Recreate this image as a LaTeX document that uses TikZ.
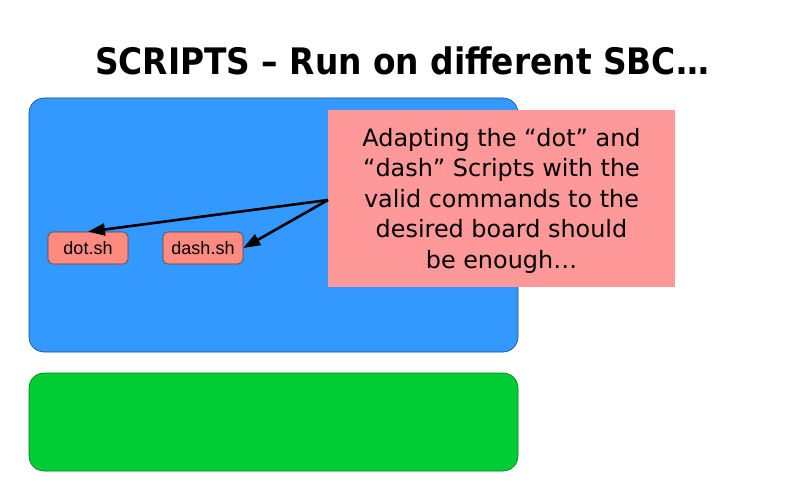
\documentclass[tikz,border=0pt]{standalone}
\usepackage{fontspec}
\setmainfont{DejaVu Sans}
\newfontfamily\arialfont{Liberation Sans}
\newfontfamily\headfont{DejaVu Sans Condensed}
\usetikzlibrary{arrows.meta}
\definecolor{boardblue}{HTML}{3399FF}
\definecolor{boardgreen}{HTML}{00CC33}
\definecolor{notepink}{HTML}{FF9999}
\definecolor{filepink}{HTML}{FF8A80}
\begin{document}
\begin{tikzpicture}[x=1pt,y=-1pt,
  panel/.style={rounded corners=15pt, line width=0.6pt},
  filebox/.style={draw=black!60!filepink, fill=filepink, rounded corners=5pt, line width=0.6pt,
    minimum width=80pt, minimum height=32pt, inner sep=0pt,
    font=\arialfont\fontsize{18}{21}\selectfont},
  pointer/.style={-{Triangle[length=17pt,width=12pt]}, line width=2.6pt, black}]
  \useasboundingbox (0,0) rectangle (800,500);
  \fill[white] (0,0) rectangle (800,500);
  % title
  \node (title) at (402,61) {\headfont\fontsize{36.5}{42}\selectfont\bfseries SCRIPTS – Run on different SBC…};
  % board areas
  \draw[panel, fill=boardblue, draw=black!50!boardblue] (29,98) rectangle (518,352);
  \draw[panel, fill=boardgreen, draw=black!40!boardgreen] (29,373) rectangle (518,471);
  % script files
  \node[filebox] (dot) at (88,248) {dot.sh};
  \node[filebox] (dash) at (203,248) {dash.sh};
  % note
  \fill[notepink] (328,110) rectangle (675,287);
  \node[align=center, inner sep=0pt, font=\fontsize{23.9}{30.5}\selectfont] (note) at (501.5,200.5)
    {Adapting the “dot” and\\ “dash” Scripts with the\\ valid commands to the\\ desired board should\\ be enough…};
  \coordinate (src) at (328,200);
  \draw[pointer] (src) -- (dot.north);
  \draw[pointer] (src) -- (dash.east);
\end{tikzpicture}
\end{document}
